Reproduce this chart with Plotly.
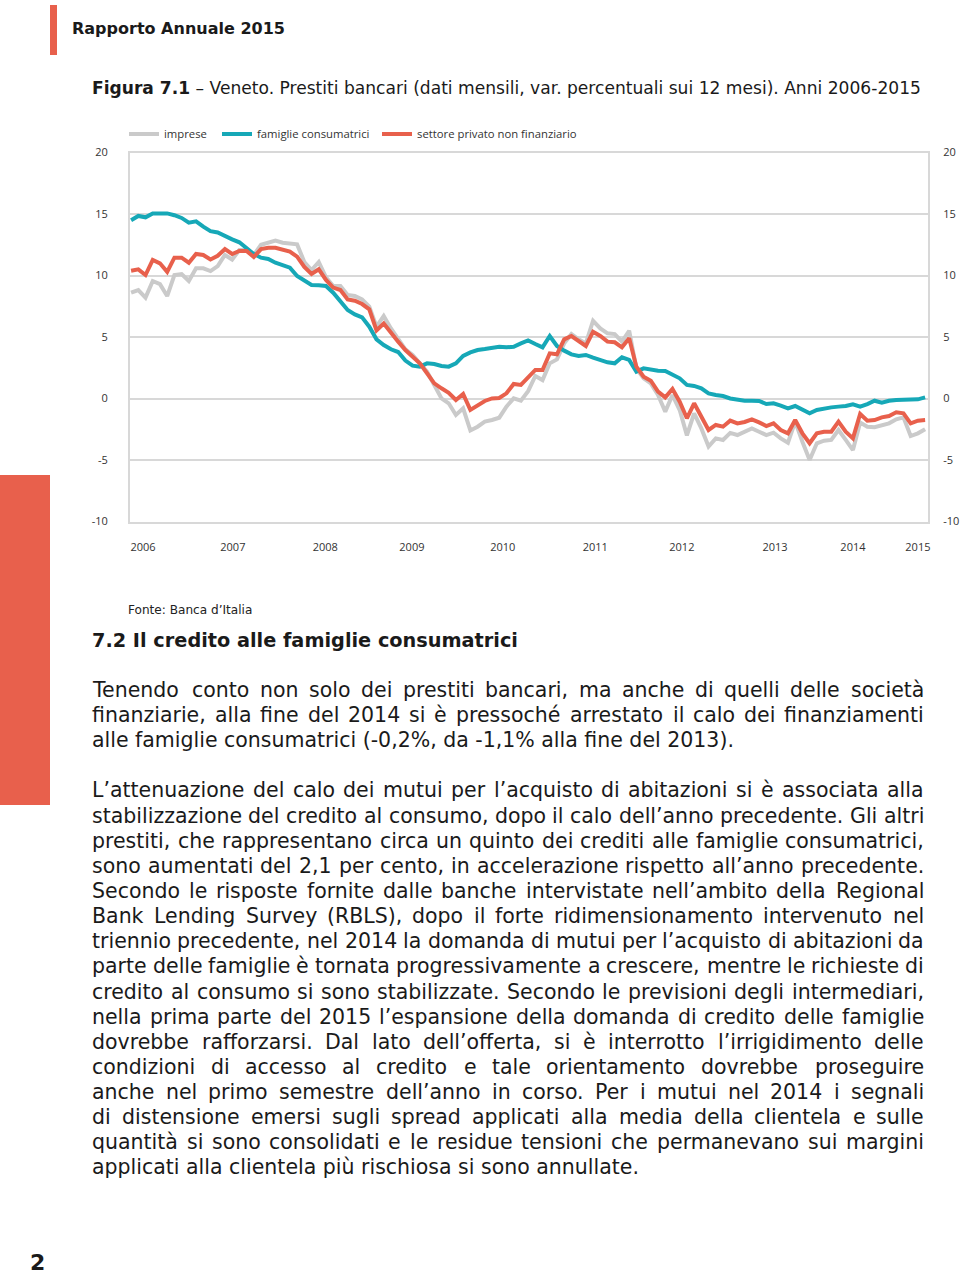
import plotly.graph_objects as go

# ---------------- data (monthly, % change over 12 months) ----------------
imprese = [
    8.6, 8.82, 8.2, 9.55, 9.3, 8.33, 10.04, 10.12, 9.55, 10.58, 10.58, 10.36, 10.77, 11.67, 11.3,
    12.07, 12.07, 11.67, 12.5, 12.67, 12.83, 12.67, 12.6, 12.53, 11.1, 10.45, 11.1, 9.85, 9.15,
    9.15, 8.41, 8.33, 8.06, 7.47, 5.84, 6.71, 5.7, 4.89, 4.0, 3.54, 2.86, 2.18, 1.1, 0.01, -0.39,
    -1.34, -0.8, -2.6, -2.29, -1.88, -1.75, -1.56, -0.66, 0.01, -0.18, 0.6,
    1.83, 1.5, 2.86, 3.18, 4.48, 5.24, 4.81, 4.48, 6.32, 5.7, 5.3, 5.24, 4.62, 5.51, 2.45, 1.64,
    1.23, 0.28, -1.07, 0.28, -0.94, -3.0, -1.21, -2.43, -3.9, -3.24, -3.37, -2.8,
    -2.97, -2.7, -2.43, -2.7, -2.97, -2.78, -3.24, -3.59, -1.88, -3.51, -5.0, -3.64, -3.43, -3.37,
    -2.56, -3.37, -4.19, -1.96, -2.29, -2.34, -2.15, -2.02, -1.69, -1.53, -3.05, -2.83, -2.5,
]
famiglie = [
    14.5, 14.84, 14.73, 15.05, 15.05, 15.05, 14.9, 14.68, 14.3, 14.4, 13.97, 13.6, 13.5, 13.2, 12.94,
    12.7, 12.26, 11.75, 11.45, 11.34, 11.04, 10.88, 10.64, 9.96, 9.64, 9.23, 9.2, 9.15, 8.6,
    7.87, 7.19, 6.84, 6.6, 5.84, 4.81, 4.35, 4.0, 3.78, 3.08, 2.67, 2.59, 2.86, 2.8, 2.64, 2.59,
    2.86, 3.46, 3.75, 3.94, 4.02, 4.08, 4.21, 4.16, 4.21, 4.48, 4.72,
    4.43, 4.16, 5.08, 4.27, 3.89, 3.59, 3.46, 3.54, 3.32, 3.13, 2.94, 2.86, 3.35, 3.13, 2.18, 2.45,
    2.32, 2.26, 2.24, 1.91, 1.64, 1.1, 1.02, 0.83, 0.42, 0.28, 0.2, 0.0,
    -0.12, -0.18, -0.18, -0.2, -0.45, -0.39, -0.58, -0.8, -0.61, -0.88, -1.21, -0.93, -0.8, -0.72,
    -0.66, -0.61, -0.47, -0.66, -0.45, -0.18, -0.34, -0.18, -0.12, -0.12, -0.12, -0.07, 0.09,
]
settore = [
    10.39, 10.5, 10.04, 11.26, 10.99, 10.3, 11.45, 11.45, 11.04, 11.75, 11.67, 11.3, 11.6, 12.15, 11.75,
    12.0, 12.0, 11.5, 12.15, 12.26, 12.26, 12.07, 11.94, 11.53, 10.7, 10.12, 10.5, 9.64, 9.02,
    8.82, 8.06, 7.95, 7.68, 7.25, 5.54, 6.1, 5.3, 4.62, 3.94, 3.4, 2.86, 2.05, 1.23, 0.83, 0.47,
    -0.12, 0.37, -0.93, -0.53, -0.2, 0.01, 0.04, 0.42, 1.18, 1.1, 1.7,
    2.32, 2.32, 3.67, 3.59, 4.81, 5.08, 4.7, 4.27, 5.43, 5.08, 4.62, 4.57, 4.16, 4.89, 2.59, 1.77,
    1.45, 0.56, 0.09, 0.77, -0.26, -1.61, -0.39, -1.42, -2.56, -2.15, -2.29, -1.8,
    -2.02, -1.91, -1.69, -1.94, -2.24, -2.02, -2.56, -2.83, -1.75, -2.83, -3.64, -2.83, -2.7, -2.7,
    -1.88, -2.7, -3.24, -1.26, -1.8, -1.75, -1.53, -1.42, -1.12, -1.21, -2.02, -1.8, -1.75,
]
series_names = ["imprese", "famiglie consumatrici", "settore privato non finanziario"]
year_labels = ["2006", "2007", "2008", "2009", "2010", "2011", "2012", "2013", "2014", "2015"]
y_ticks = [-10, -5, 0, 5, 10, 15, 20]

# ---------------- styling / layout constants ----------------
W, H = 960, 1274
RED = "#e8604c"
TEAL = "#16a8b7"
GRAY = "#cacaca"
GRID = "#d8d8d8"
TXT = "#1a1a1a"
CFONT = "Open Sans"
BFONT = "DejaVu Sans"
year_tick_pos = [1.66, 14.1, 26.9, 38.9, 51.5, 64.3, 76.3, 89.2, 100.0, 109.0]
legend_widths = [48, 115, 170]

def px(x):
    return x / W

def py(y):
    return 1 - y / H

fig = go.Figure()
for name, vals, col, ya, lw in zip(series_names, [imprese, famiglie, settore],
                                   [GRAY, TEAL, RED], ["y", "y", "y2"], legend_widths):
    fig.add_trace(go.Scatter(
        x=list(range(len(vals))), y=vals, name=name, mode="lines", yaxis=ya,
        line=dict(color=col, width=4), hoverinfo="skip", legendwidth=lw,
    ))

axis_font = dict(family=CFONT, size=11, color="#333333")
fig.update_layout(
    width=W, height=H,
    margin=dict(l=0, r=0, t=0, b=0, autoexpand=False),
    paper_bgcolor="white", plot_bgcolor="white",
    showlegend=True,
    legend=dict(orientation="h", x=px(124), y=py(134), xanchor="left", yanchor="middle",
                font=dict(family=CFONT, size=11.3, color="#333333"), itemwidth=30,
                bgcolor="rgba(0,0,0,0)", traceorder="normal"),
    xaxis=dict(domain=[px(130), px(928)], range=[-0.15, 110.4], automargin=False,
               tickmode="array", tickvals=year_tick_pos, ticktext=year_labels,
               showgrid=False, zeroline=False, showline=True, linecolor=GRID, linewidth=2,
               mirror=True, ticks="outside", ticklen=14, tickcolor="rgba(0,0,0,0)",
               tickfont=axis_font, fixedrange=True),
    yaxis=dict(domain=[py(521.5), py(152.5)], range=[-10, 20], automargin=False,
               tickmode="array", tickvals=y_ticks, ticktext=[str(v) for v in y_ticks],
               showgrid=True, gridcolor=GRID, gridwidth=2, zeroline=False,
               showline=True, linecolor=GRID, linewidth=2, mirror=True,
               ticks="outside", ticklen=18, tickcolor="rgba(0,0,0,0)",
               tickfont=axis_font, fixedrange=True),
    yaxis2=dict(overlaying="y", side="right", anchor="x", range=[-10, 20], automargin=False,
                tickmode="array", tickvals=y_ticks, ticktext=[str(v) for v in y_ticks],
                showgrid=False, zeroline=False, showline=False,
                ticks="outside", ticklen=12, tickcolor="rgba(0,0,0,0)",
                tickfont=axis_font, fixedrange=True),
)

# ---------------- page decorations ----------------
fig.add_shape(type="rect", xref="paper", yref="paper", x0=px(50), x1=px(57), y0=py(55), y1=py(5),
              fillcolor=RED, line_width=0, layer="above")
fig.add_shape(type="rect", xref="paper", yref="paper", x0=0, x1=px(50), y0=py(805), y1=py(475),
              fillcolor=RED, line_width=0, layer="above")

def text(x, y, s, size, bold=False, color=TXT, anchor="left", family=BFONT):
    fig.add_annotation(x=px(x), y=py(y), xref="paper", yref="paper", text=s, showarrow=False,
                       xanchor=anchor, yanchor="middle", align="left",
                       font=dict(family=family, size=size, color=color,
                                 weight="bold" if bold else "normal"))

text(70, 29, "Rapporto Annuale 2015", 16, bold=True)
text(90, 88, "<b>Figura 7.1</b> – Veneto. Prestiti bancari (dati mensili, var. percentuali sui 12 mesi). Anni 2006-2015", 17.1)
text(126, 610, "Fonte: Banca d’Italia", 12.1, color="#222222")
text(90, 640, "7.2 Il credito alle famiglie consumatrici", 19.3, bold=True)

# body text (justified lines: True; paragraph-final lines: False)
body = [
    (690, True, "Tenendo conto non solo dei prestiti bancari, ma anche di quelli delle società"),
    (715, True, "finanziarie, alla fine del 2014 si è pressoché arrestato il calo dei finanziamenti"),
    (740, False, "alle famiglie consumatrici (-0,2%, da -1,1% alla fine del 2013)."),
    (790, True, "L’attenuazione del calo dei mutui per l’acquisto di abitazioni si è associata alla"),
    (816, True, "stabilizzazione del credito al consumo, dopo il calo dell’anno precedente. Gli altri"),
    (841, True, "prestiti, che rappresentano circa un quinto dei crediti alle famiglie consumatrici,"),
    (866, True, "sono aumentati del 2,1 per cento, in accelerazione rispetto all’anno precedente."),
    (891, True, "Secondo le risposte fornite dalle banche intervistate nell’ambito della Regional"),
    (916, True, "Bank Lending Survey (RBLS), dopo il forte ridimensionamento intervenuto nel"),
    (941, True, "triennio precedente, nel 2014 la domanda di mutui per l’acquisto di abitazioni da"),
    (966, True, "parte delle famiglie è tornata progressivamente a crescere, mentre le richieste di"),
    (992, True, "credito al consumo si sono stabilizzate. Secondo le previsioni degli intermediari,"),
    (1017, True, "nella prima parte del 2015 l’espansione della domanda di credito delle famiglie"),
    (1042, True, "dovrebbe rafforzarsi. Dal lato dell’offerta, si è interrotto l’irrigidimento delle"),
    (1067, True, "condizioni di accesso al credito e tale orientamento dovrebbe proseguire"),
    (1092, True, "anche nel primo semestre dell’anno in corso. Per i mutui nel 2014 i segnali"),
    (1117, True, "di distensione emersi sugli spread applicati alla media della clientela e sulle"),
    (1142, True, "quantità si sono consolidati e le residue tensioni che permanevano sui margini"),
    (1167, False, "applicati alla clientela più rischiosa si sono annullate."),
]

# DejaVu Sans advance widths (units per em = 2048), used to justify the lines
ADV = {" ": 651, ",": 651, ".": 651, "(": 799, ")": 799, "-": 739, "%": 1946, "’": 651,
       "A": 1401, "B": 1405, "C": 1430, "D": 1577, "E": 1294, "F": 1178, "G": 1587, "H": 1540,
       "I": 604, "J": 604, "K": 1343, "L": 1141, "M": 1767, "N": 1532, "O": 1612, "P": 1235,
       "Q": 1612, "R": 1423, "S": 1300, "T": 1251, "U": 1499, "V": 1401, "W": 2025, "X": 1403,
       "Y": 1251, "Z": 1403,
       "a": 1255, "b": 1300, "c": 1126, "d": 1300, "e": 1260, "f": 721, "g": 1300, "h": 1298,
       "i": 569, "j": 569, "k": 1186, "l": 569, "m": 1995, "n": 1298, "o": 1253, "p": 1300,
       "q": 1300, "r": 842, "s": 1067, "t": 803, "u": 1298, "v": 1212, "w": 1675, "x": 1212,
       "y": 1212, "z": 1075, "à": 1255, "è": 1260, "é": 1260, "ù": 1298, "ò": 1253, "ì": 569}
BODY_SIZE = 20.5
LEFT, RIGHT = 92, 924

def word_w(wd):
    return sum(ADV.get(c, 1303 if c.isdigit() else 1200) for c in wd) / 2048 * BODY_SIZE

for y, just, s in body:
    if not just:
        text(LEFT - 2, y, s, BODY_SIZE)
        continue
    words = s.split(" ")
    widths = [word_w(w) for w in words]
    gap = (RIGHT - LEFT - sum(widths)) / (len(words) - 1)
    x = LEFT
    for i, (w, wd) in enumerate(zip(words, widths)):
        if i == len(words) - 1:
            text(RIGHT + 2, y, w, BODY_SIZE, anchor="right")
        else:
            text(x - 2, y, w, BODY_SIZE)
        x += wd + gap

text(37, 1262, "2", 22, bold=True, anchor="center")

fig.write_html("out.html", config={"displayModeBar": False},
               post_script="document.body.style.margin='0';document.body.style.overflow='hidden';")
